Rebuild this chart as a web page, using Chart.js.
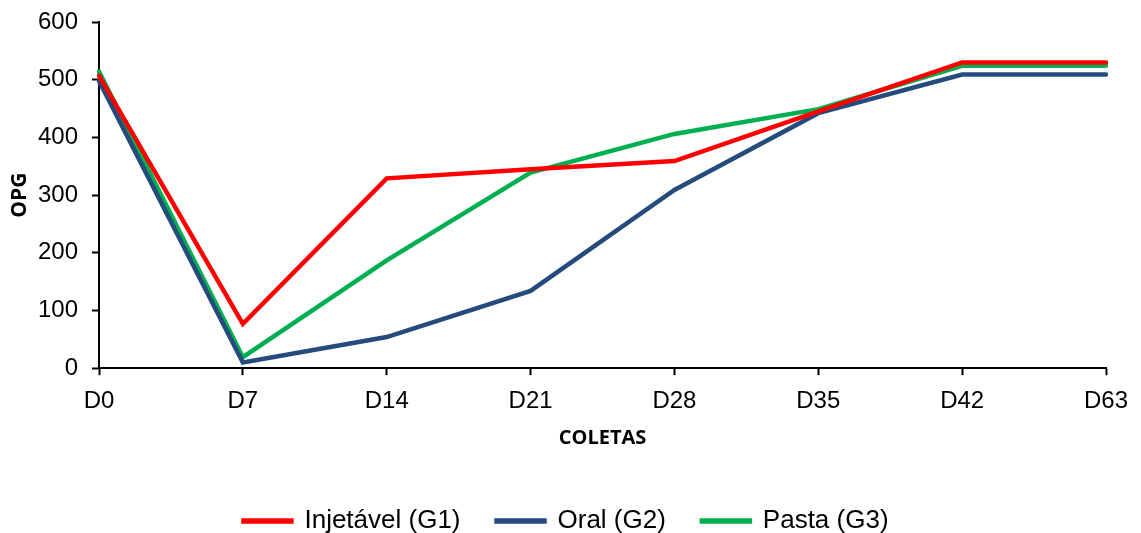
<!DOCTYPE html>
<html>
<head>
<meta charset="utf-8">
<script src="https://cdn.jsdelivr.net/npm/chart.js@4"></script>
<style>
  html, body { margin: 0; padding: 0; background: #fff; }
  #wrap { width: 1141px; height: 533px; position: relative; }
</style>
</head>
<body>
<div id="wrap"><canvas id="chart_opg"></canvas></div>
<script>
var coletas = ['D0', 'D7', 'D14', 'D21', 'D28', 'D35', 'D42', 'D63'];
var injetavel = [507, 77, 329, 345, 359, 445, 530, 530];
var oral = [498, 10, 54, 134, 309, 442, 509, 509];
var pasta = [514, 19, 187, 339, 406, 449, 524, 524];
var yTicks = [0, 100, 200, 300, 400, 500, 600];

var tickFont = { family: "'Liberation Sans', Arial, sans-serif", size: 24 };
var legendFont = { family: "'Liberation Sans', Arial, sans-serif", size: 26 };
var xTitleFont = { family: "'Open Sans', 'Liberation Sans', sans-serif", size: 20, weight: 'bold' };
var yTitleFont = { family: "'Open Sans', 'Liberation Sans', sans-serif", size: 21, weight: 'bold' };

var lineData = {
    labels: coletas,
    datasets: [{
        label: 'Injetável (G1)',
        data: injetavel,
        borderColor: '#FF0000',
        backgroundColor: '#FF0000'
    }, {
        label: 'Oral (G2)',
        data: oral,
        borderColor: '#254B7D',
        backgroundColor: '#254B7D'
    }, {
        label: 'Pasta (G3)',
        data: pasta,
        borderColor: '#00B050',
        backgroundColor: '#00B050'
    }]
};

window.onload = function() {
    var ctx = document.getElementById('chart_opg');
    window.myLine = new Chart(ctx, {
        type: 'line',
        data: lineData,
        options: {
            responsive: true,
            maintainAspectRatio: false,
            animation: false,
            // left padding shifts the centred legend to where it sits in the reference
            layout: { padding: { left: 26, right: 35, top: 0, bottom: -11 } },
            elements: {
                line: { borderWidth: 4.5, tension: 0, borderCapStyle: 'round' },
                point: { radius: 0 }
            },
            scales: {
                x: {
                    offset: false,
                    grid: { display: true, drawOnChartArea: false, color: '#000', tickLength: 7, tickWidth: 2 },
                    border: { color: '#000', width: 2 },
                    ticks: { color: '#000', font: tickFont, maxRotation: 0, padding: 12 },
                    title: { display: true, text: 'COLETAS', color: '#000', font: xTitleFont, padding: { top: -2, bottom: 22 } }
                },
                y: {
                    min: 0,
                    max: 600,
                    afterBuildTicks: function(axis) {
                        axis.ticks = yTicks.map(function(v) { return { value: v }; });
                    },
                    // fixed axis width / top room so the plot starts at (99, 22)
                    afterFit: function(scale) {
                        scale.width = 73;
                        scale.paddingTop = 22;
                    },
                    grid: { display: true, drawOnChartArea: false, color: '#000', tickLength: 7, tickWidth: 2 },
                    border: { color: '#000', width: 2 },
                    ticks: { color: '#000', font: tickFont, padding: 14 },
                    title: { display: true, text: 'OPG', color: '#000', font: yTitleFont, padding: { top: -19, bottom: 0 } }
                }
            },
            plugins: {
                legend: {
                    position: 'bottom',
                    labels: {
                        color: '#000',
                        font: legendFont,
                        boxWidth: 48,
                        boxHeight: 1,
                        padding: 36
                    }
                },
                title: { display: false },
                tooltip: { enabled: false }
            }
        }
    });
};
</script>
</body>
</html>
